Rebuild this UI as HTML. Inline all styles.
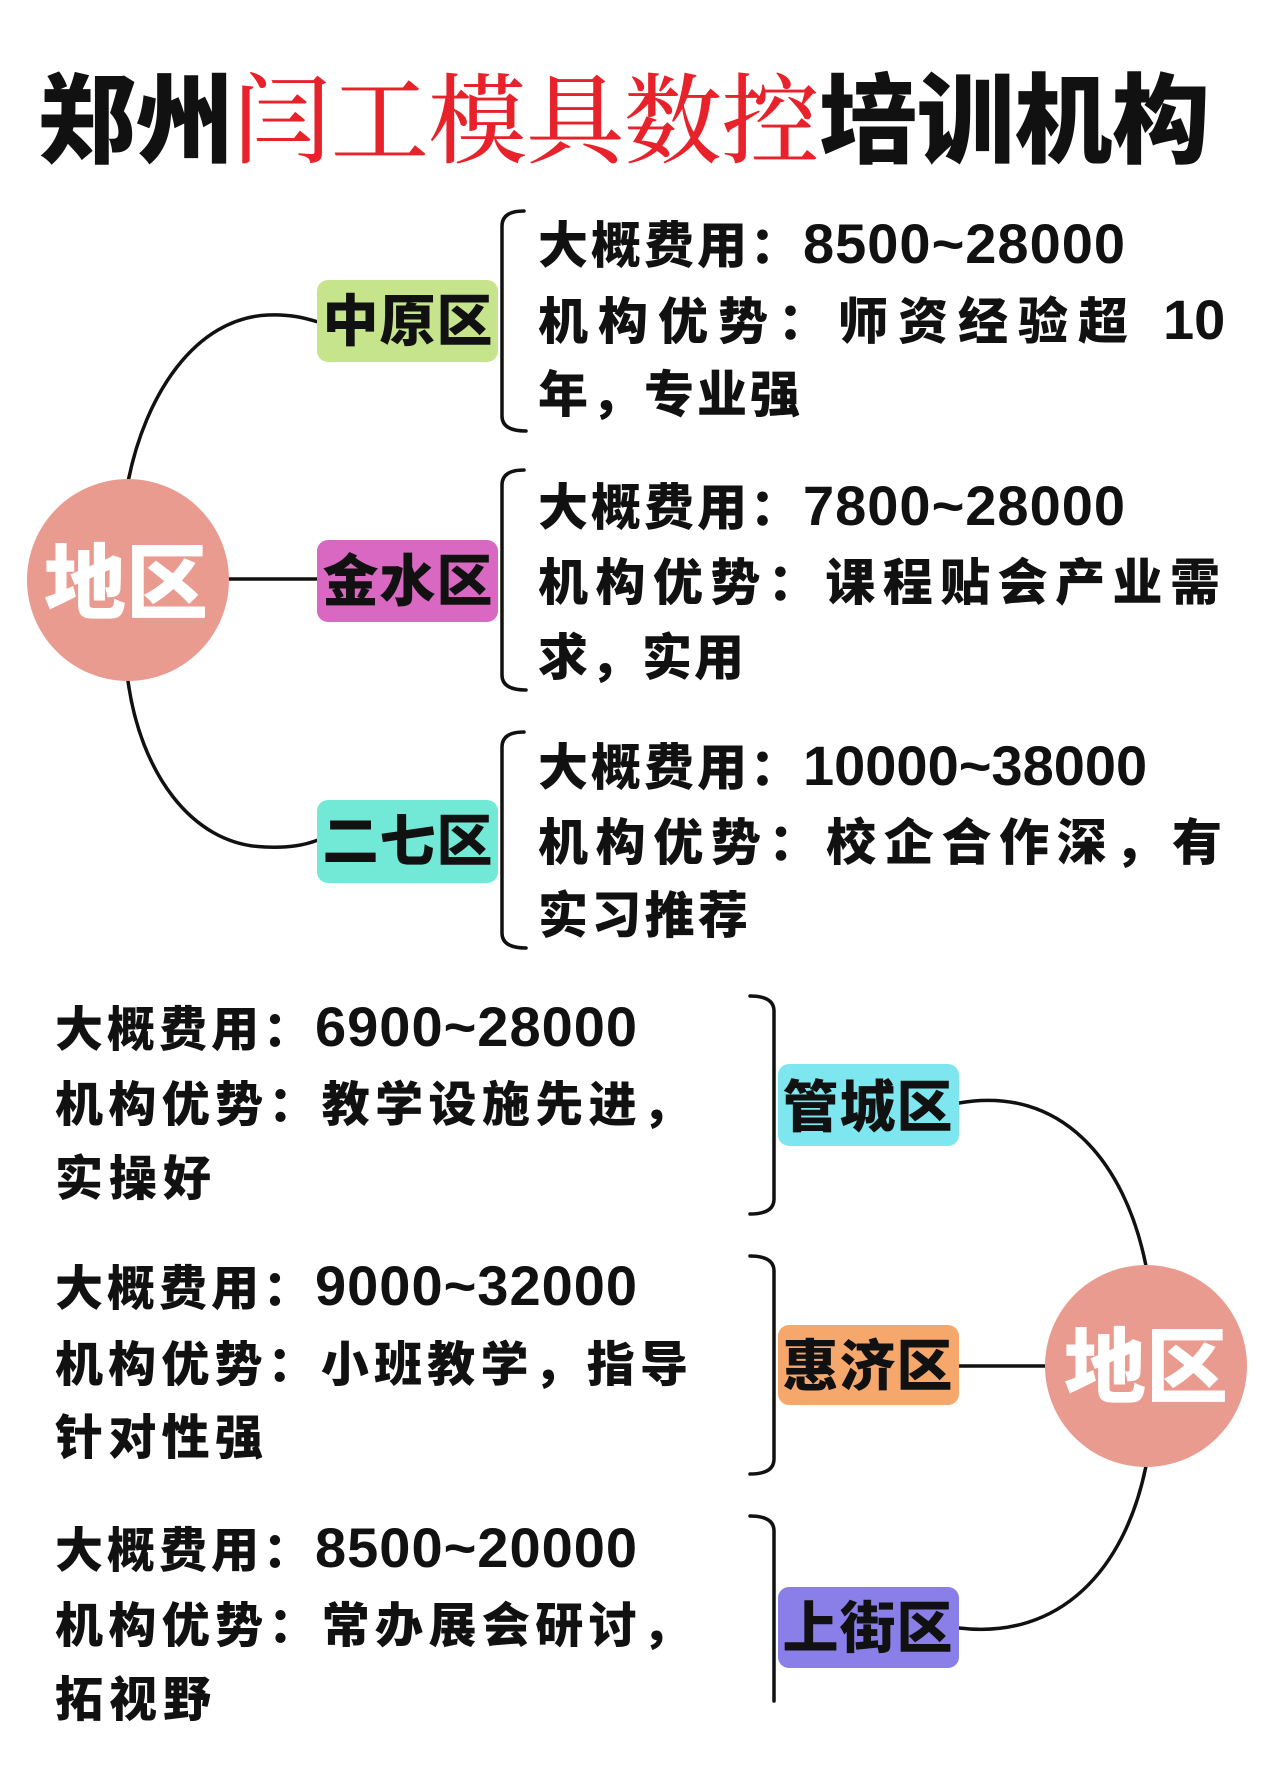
<!DOCTYPE html>
<html>
<head>
<meta charset="utf-8">
<style>
html,body{margin:0;padding:0;background:#fff;}
body{width:1280px;height:1790px;overflow:hidden;}
svg{display:block;}
.t{font-family:"Liberation Sans","Noto Sans CJK SC",sans-serif;font-weight:900;fill:#111;}
.box{font-family:"Liberation Sans","Noto Sans CJK SC",sans-serif;font-weight:900;fill:#111;font-size:56px;}
.ttl{font-family:"Liberation Sans","Noto Sans CJK SC",sans-serif;font-weight:900;font-size:98px;}
.red{font-family:"Liberation Serif","Noto Serif CJK SC",serif;font-weight:500;fill:#e8222b;}
.circ{font-family:"Liberation Sans","Noto Sans CJK SC",sans-serif;font-weight:900;fill:#fff;font-size:82px;}
.ln{fill:none;stroke:#111;stroke-width:3.5;stroke-linecap:round;}
.dg{font-family:"Liberation Sans",sans-serif;font-weight:700;font-size:56px;}
</style>
</head>
<body>
<svg width="1280" height="1790" viewBox="0 0 1280 1790" xmlns="http://www.w3.org/2000/svg">
<rect width="1280" height="1790" fill="#fff"/>

<!-- Title -->
<text class="ttl" x="38" y="155" textLength="1172" lengthAdjust="spacing"><tspan fill="#111">郑州</tspan><tspan class="red">闫工模具数控</tspan><tspan fill="#111">培训机构</tspan></text>

<!-- Upper connectors -->
<path class="ln" d="M128,482 C145,395 195,318 268,315 C290,314 305,318 318,322"/>
<path class="ln" d="M229,579 L318,579"/>
<path class="ln" d="M128,681 C140,770 190,845 265,847 C290,848 305,845 318,840"/>

<!-- Upper circle -->
<circle cx="128" cy="580" r="101" fill="#ea9b90"/>
<text class="circ" x="126" y="612" text-anchor="middle">地区</text>

<!-- Upper boxes -->
<rect x="317" y="280" width="181" height="82" rx="11" fill="#c6e48c"/>
<text class="box" x="408" y="341" text-anchor="middle" letter-spacing="1">中原区</text>
<rect x="317" y="540" width="181" height="82" rx="11" fill="#d968c2"/>
<text class="box" x="408" y="601" text-anchor="middle" letter-spacing="1">金水区</text>
<rect x="317" y="800" width="181" height="83" rx="11" fill="#72e9d6"/>
<text class="box" x="408" y="861" text-anchor="middle" letter-spacing="1">二七区</text>

<!-- Upper brackets -->
<path class="ln" d="M524,211 Q502,211 502,226 L502,416 Q502,431 526,431"/>
<path class="ln" d="M524,470 Q502,470 502,485 L502,675 Q502,690 526,690"/>
<path class="ln" d="M524,732 Q502,732 502,747 L502,933 Q502,948 526,948"/>

<!-- Upper texts -->
<g class="t" font-size="50">
<text x="538" y="263" letter-spacing="3">大概费用：<tspan class="dg" letter-spacing="1">8500~28000</tspan></text>
<text x="538" y="339" letter-spacing="10">机构优势：师资经验超<tspan class="dg" x="1163" letter-spacing="0">10</tspan></text>
<text x="538" y="412" textLength="262" lengthAdjust="spacing">年，专业强</text>

<text x="538" y="525" letter-spacing="3">大概费用：<tspan class="dg" letter-spacing="1">7800~28000</tspan></text>
<text x="538" y="600" textLength="682" lengthAdjust="spacing">机构优势：课程贴会产业需</text>
<text x="538" y="675" textLength="206" lengthAdjust="spacing">求，实用</text>

<text x="538" y="785" letter-spacing="3">大概费用：<tspan class="dg" letter-spacing="0">10000~38000</tspan></text>
<text x="538" y="860" textLength="684" lengthAdjust="spacing">机构优势：校企合作深，有</text>
<text x="538" y="933" textLength="210" lengthAdjust="spacing">实习推荐</text>
</g>

<!-- Lower texts -->
<g class="t" font-size="48">
<text x="55" y="1046" letter-spacing="4">大概费用：<tspan class="dg" letter-spacing="1">6900~28000</tspan></text>
<text x="55" y="1121" textLength="635" lengthAdjust="spacing">机构优势：教学设施先进，</text>
<text x="55" y="1195" textLength="156" lengthAdjust="spacing">实操好</text>

<text x="55" y="1305" letter-spacing="4">大概费用：<tspan class="dg" letter-spacing="1">9000~32000</tspan></text>
<text x="55" y="1381" textLength="633" lengthAdjust="spacing">机构优势：小班教学，指导</text>
<text x="55" y="1454" textLength="208" lengthAdjust="spacing">针对性强</text>

<text x="55" y="1567" letter-spacing="4">大概费用：<tspan class="dg" letter-spacing="1">8500~20000</tspan></text>
<text x="55" y="1642" textLength="635" lengthAdjust="spacing">机构优势：常办展会研讨，</text>
<text x="55" y="1716" textLength="156" lengthAdjust="spacing">拓视野</text>
</g>

<!-- Lower brackets -->
<path class="ln" d="M750,996 Q774,996 774,1011 L774,1199 Q774,1214 750,1214"/>
<path class="ln" d="M750,1256 Q774,1256 774,1271 L774,1459 Q774,1474 750,1474"/>
<path class="ln" d="M750,1516 Q774,1516 774,1531 L774,1701"/>

<!-- Lower connectors -->
<path class="ln" d="M959,1103 C1060,1085 1125,1160 1146,1266"/>
<path class="ln" d="M959,1366 L1046,1366"/>
<path class="ln" d="M1146,1466 C1125,1570 1060,1640 959,1628"/>

<!-- Lower boxes -->
<rect x="778" y="1064" width="181" height="82" rx="11" fill="#7ee6ef"/>
<text class="box" x="868" y="1127" text-anchor="middle" letter-spacing="1">管城区</text>
<rect x="778" y="1325" width="181" height="80" rx="11" fill="#f5a76c"/>
<text class="box" x="868" y="1386" text-anchor="middle" letter-spacing="1">惠济区</text>
<rect x="778" y="1587" width="181" height="81" rx="11" fill="#8a7fe8"/>
<text class="box" x="868" y="1648" text-anchor="middle" letter-spacing="1">上街区</text>

<!-- Lower circle -->
<circle cx="1146" cy="1366" r="101" fill="#ea9b90"/>
<text class="circ" x="1146" y="1396" text-anchor="middle">地区</text>
</svg>
</body>
</html>
